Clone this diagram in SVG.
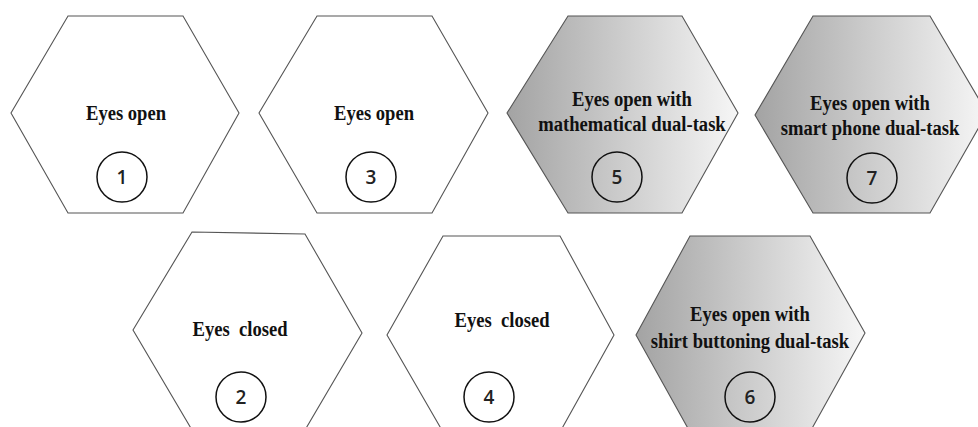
<svg xmlns="http://www.w3.org/2000/svg" width="978" height="427" viewBox="0 0 978 427">
<defs>
<linearGradient id="g" x1="0" y1="0" x2="1" y2="0">
<stop offset="0" stop-color="#a3a3a3"/>
<stop offset="1" stop-color="#f6f6f6"/>
</linearGradient>
</defs>
<style>
.hex{fill:#fff;stroke:#555;stroke-width:1.1}
.hexg{fill:url(#g);stroke:#555;stroke-width:1.1}
.lbl{font-family:"Liberation Serif","Times New Roman",serif;font-weight:bold;font-size:20px;fill:#111;text-anchor:middle}
.num{fill:none;stroke:#111;stroke-width:1.5}
.nt{font-family:"Open Sans","Noto Sans",sans-serif;font-weight:600;font-size:19px;fill:#222;text-anchor:middle}
</style>
<rect width="978" height="427" fill="#fff"/>
<g id="node1">
<polygon class="hex" points="68,16 183,16 239,113 183,213 68,213 11,113"/>
<g transform="translate(126,0) scale(0.93,1)"><text class="lbl" x="0" y="120">Eyes open</text></g>
<circle class="num" cx="122" cy="177" r="25"/>
<text class="nt" x="122" y="184">1</text>
</g>
<g id="node3">
<polygon class="hex" points="317,16 432,16 488,113 432,213 317,213 259,113"/>
<g transform="translate(374,0) scale(0.93,1)"><text class="lbl" x="0" y="120">Eyes open</text></g>
<circle class="num" cx="371" cy="177" r="25"/>
<text class="nt" x="371" y="184">3</text>
</g>
<g id="node5">
<polygon class="hexg" points="568,16 682,16 738,113 682,213 568,213 507,113"/>
<g transform="translate(632,0) scale(0.93,1)">
<text class="lbl" x="0" y="106">Eyes open with</text>
<text class="lbl" x="0" y="131">mathematical dual-task</text>
</g>
<circle class="num" cx="617" cy="177" r="25"/>
<text class="nt" x="617" y="184">5</text>
</g>
<g id="node7">
<polygon class="hexg" points="813,16 930,16 987,113 930,213 813,213 755,115"/>
<g transform="translate(870,0) scale(0.93,1)">
<text class="lbl" x="0" y="110">Eyes open with</text>
<text class="lbl" x="0" y="135">smart phone dual-task</text>
</g>
<circle class="num" cx="872" cy="178" r="25"/>
<text class="nt" x="872" y="185">7</text>
</g>
<g id="node2">
<polygon class="hex" points="192,232 305,234 362,333 305,430 192,430 133,330"/>
<g transform="translate(240,0) scale(0.93,1)"><text class="lbl" x="0" y="336" xml:space="preserve">Eyes  closed</text></g>
<circle class="num" cx="241" cy="397" r="25"/>
<text class="nt" x="241" y="404">2</text>
</g>
<g id="node4">
<polygon class="hex" points="443,236 560,236 614,335 560,432 443,432 387,335"/>
<g transform="translate(502,0) scale(0.93,1)"><text class="lbl" x="0" y="327" xml:space="preserve">Eyes  closed</text></g>
<circle class="num" cx="489" cy="397" r="25"/>
<text class="nt" x="489" y="404">4</text>
</g>
<g id="node6">
<polygon class="hexg" points="690,236 810,236 865,333 810,432 690,432 636,335"/>
<g transform="translate(750,0) scale(0.93,1)">
<text class="lbl" x="0" y="321">Eyes open with</text>
<text class="lbl" x="0" y="348">shirt buttoning dual-task</text>
</g>
<circle class="num" cx="750" cy="397" r="25"/>
<text class="nt" x="750" y="404">6</text>
</g>
<g id="connectors"/>
</svg>
